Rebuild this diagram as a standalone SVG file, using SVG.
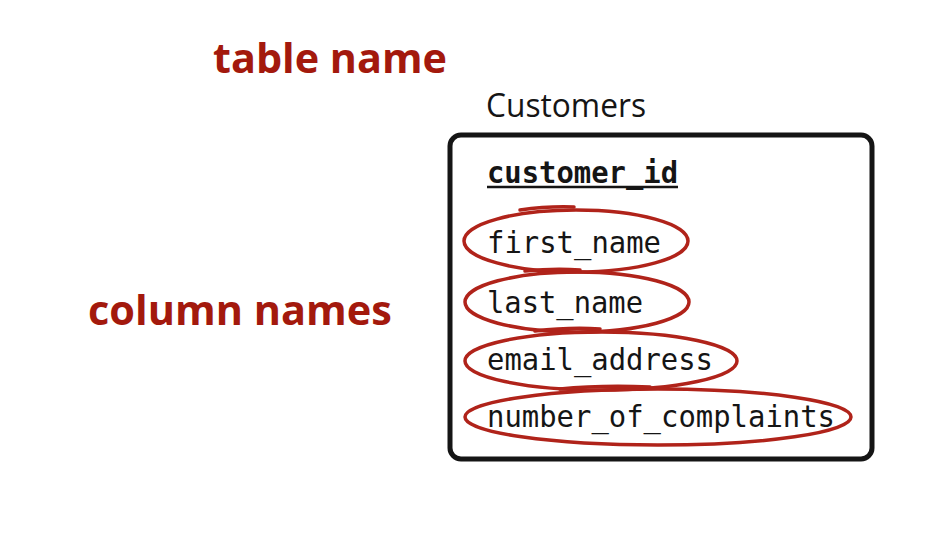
<svg xmlns="http://www.w3.org/2000/svg" width="933" height="548" viewBox="0 0 933 548">
<style>
.lbl{font-family:"Open Sans","Liberation Sans",sans-serif;font-weight:bold;font-size:41px;fill:#a3190d}
.title{font-family:"Open Sans","Liberation Sans",sans-serif;font-size:32px;fill:#151515}
.col{font-family:"DejaVu Sans Mono","Liberation Mono",monospace;font-size:31px;fill:#151515}
.pk{font-weight:bold}
.ring{fill:none;stroke:#b0231a;stroke-width:3.5;stroke-linecap:round}
.box{fill:#fff;stroke:#151515;stroke-width:5}
</style>
<rect width="933" height="548" fill="#fff"/>
<g id="labels">
<text class="lbl" x="213" y="73" textLength="234" lengthAdjust="spacingAndGlyphs">table name</text>
<text class="lbl" x="88" y="325" textLength="304" lengthAdjust="spacingAndGlyphs">column names</text>
</g>
<g id="customers">
<text class="title" x="486" y="117" textLength="160" lengthAdjust="spacingAndGlyphs">Customers</text>
<rect class="box" x="450" y="135" width="422" height="324" rx="11"/>
<text class="col pk" x="487" y="183" textLength="191" lengthAdjust="spacingAndGlyphs">customer_id</text>
<line x1="487" y1="187" x2="678" y2="187" stroke="#151515" stroke-width="2.5"/>
<text class="col" x="487" y="253" textLength="174" lengthAdjust="spacingAndGlyphs">first_name</text>
<text class="col" x="487" y="313" textLength="156" lengthAdjust="spacingAndGlyphs">last_name</text>
<text class="col" x="487" y="370" textLength="226" lengthAdjust="spacingAndGlyphs">email_address</text>
<text class="col" x="487" y="427" textLength="348" lengthAdjust="spacingAndGlyphs">number_of_complaints</text>
</g>
<g id="rings">
<ellipse class="ring" cx="576" cy="241" rx="112" ry="31"/>
<path class="ring" d="M520 210 Q548 206 574 207" stroke-width="5"/>
<ellipse class="ring" cx="577" cy="302" rx="112" ry="30"/>
<path class="ring" d="M525 271 Q555 268 580 270" stroke-width="5"/>
<ellipse class="ring" cx="601" cy="361" rx="136" ry="29"/>
<path class="ring" d="M535 331 Q570 327 600 329" stroke-width="5"/>
<ellipse class="ring" cx="658" cy="417" rx="193" ry="28"/>
<path class="ring" d="M560 389 Q600 385 650 387" stroke-width="5"/>
</g>
</svg>
